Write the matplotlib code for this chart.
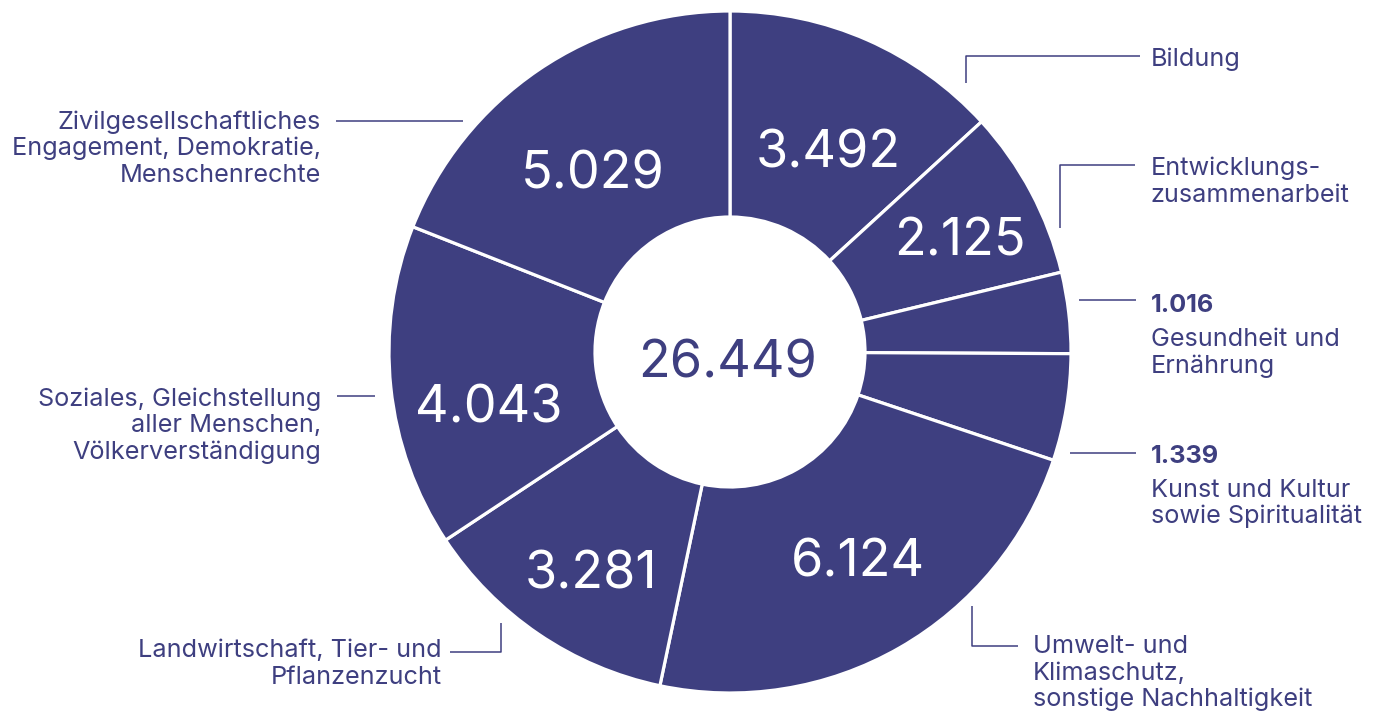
import matplotlib
matplotlib.use("Agg")
import matplotlib.pyplot as plt
import numpy as np

# ---------------- data ----------------
categories = [
    "Bildung",
    "Entwicklungs-\nzusammenarbeit",
    "Gesundheit und\nErnährung",
    "Kunst und Kultur\nsowie Spiritualität",
    "Umwelt- und\nKlimaschutz,\nsonstige Nachhaltigkeit",
    "Landwirtschaft, Tier- und\nPflanzenzucht",
    "Soziales, Gleichstellung\naller Menschen,\nVölkerverständigung",
    "Zivilgesellschaftliches\nEngagement, Demokratie,\nMenschenrechte",
]
values = [3.492, 2.125, 1.016, 1.339, 6.124, 3.281, 4.043, 5.029]
value_inside = [True, True, False, False, True, True, True, True]

# ---------------- style / layout ----------------
C = "#3e3f80"
FONT = "Inter"
W, H = 1378, 711
cx, cy = 730, 352          # image pixel coords
R, R_IN = 341, 135

# inside label placement (angle shift in deg, radius in px)
inside_pos = {0: (-1.9, 226), 1: (-1.4, 257), 4: (2.2, 242), 5: (1.7, 258),
              6: (6.1, 247), 7: (2.8, 228)}
# outside label placement: x, first baseline (image px), ha
outside_pos = [
    (1151, 66, "left"),
    (1151, 175, "left"),
    (1151, 312, "left"),
    (1151, 463, "left"),
    (1033, 653, "left"),
    (442, 657, "right"),
    (321, 406, "right"),
    (321, 129, "right"),
]
leaders = [
    [(966, 83), (966, 56), (1140, 56)],
    [(1060, 228), (1060, 165), (1135, 165)],
    [(1079, 300), (1136, 300)],
    [(1070, 453), (1136, 453)],
    [(972, 606), (972, 646), (1018, 646)],
    [(450, 652), (501, 652), (501, 623)],
    [(337, 396), (375, 396)],
    [(336, 121), (463, 121)],
]
LINE = 26.5
BIG = 37.5
SMALL = 18.2

def fmt(v):
    return f"{v:.3f}"

fig = plt.figure(figsize=(W / 100, H / 100), dpi=100)
ax = fig.add_axes([0, 0, 1, 1])
wedges, _ = ax.pie(values, radius=R, center=(cx, H - cy), startangle=90,
                   counterclock=False, colors=[C] * len(values),
                   wedgeprops=dict(width=R - R_IN, edgecolor="white", linewidth=2.3))
ax.set_xlim(0, W)
ax.set_ylim(0, H)
ax.set_aspect("equal")
ax.axis("off")

# inside values
for i, w in enumerate(wedges):
    if not value_inside[i]:
        continue
    da, rr = inside_pos[i]
    a = np.deg2rad((w.theta1 + w.theta2) / 2 + da)
    px = cx + rr * np.cos(a)
    py = cy - rr * np.sin(a)
    ax.text(px, H - (py + 19), fmt(values[i]), color="white", fontsize=BIG,
            family=FONT, ha="center", va="baseline")

# total
ax.text(728, H - 377, fmt(sum(values)), color=C, fontsize=BIG, family=FONT,
        ha="center", va="baseline")

# outside labels
for i, (x, by, ha) in enumerate(outside_pos):
    y = by
    if not value_inside[i]:
        ax.text(x, H - y, fmt(values[i]), color=C, fontsize=SMALL, family=FONT,
                fontweight="bold", ha=ha, va="baseline")
        y += 34
    for line in categories[i].split("\n"):
        ax.text(x, H - y, line, color=C, fontsize=SMALL, family=FONT,
                ha=ha, va="baseline")
        y += LINE

for pts in leaders:
    xs = [p[0] for p in pts]
    ys = [H - p[1] for p in pts]
    ax.plot(xs, ys, color=C, lw=1.1, solid_capstyle="butt")

fig.savefig("out.png", dpi=100, facecolor="white")
